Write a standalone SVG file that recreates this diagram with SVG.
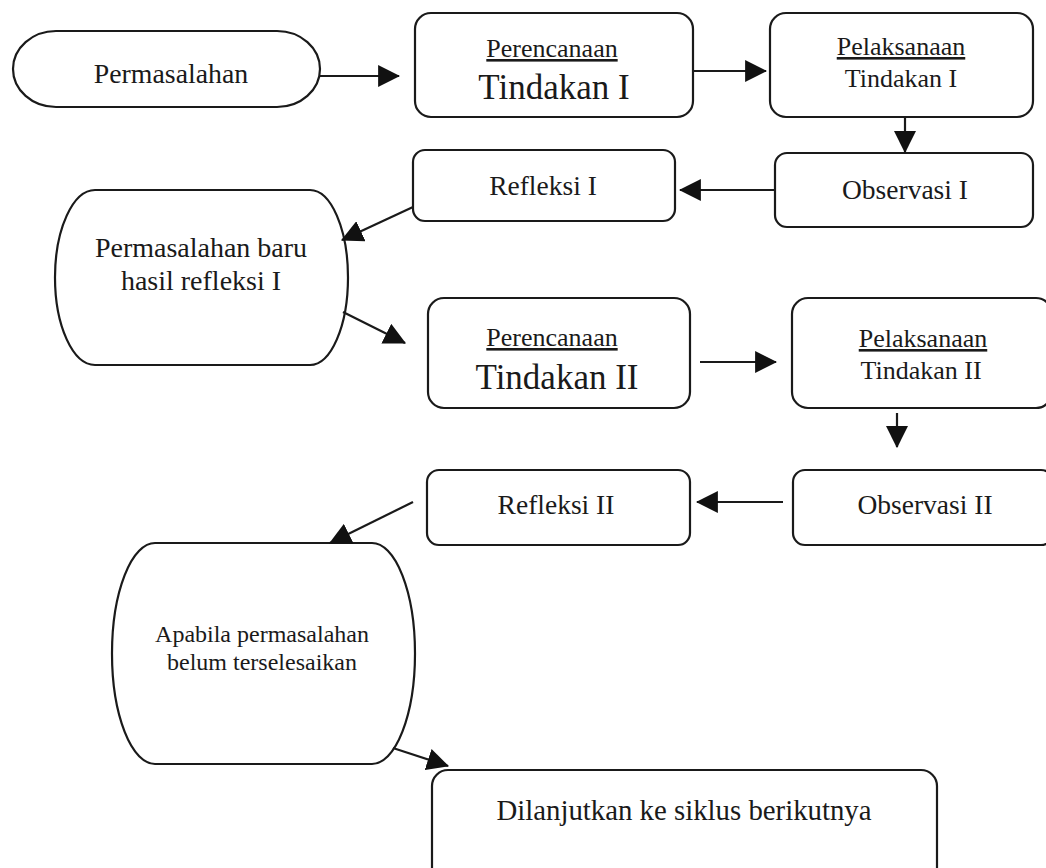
<svg xmlns="http://www.w3.org/2000/svg" width="1046" height="868" viewBox="0 0 1046 868">
<defs>
<style>
.n{fill:#fff;stroke:#1a1a1a;stroke-width:2.2}
.t{font-family:"Liberation Serif","Times New Roman",serif;fill:#1a1a1a;text-anchor:middle}
.c line{stroke:#1a1a1a;stroke-width:2.2;marker-end:url(#ah)}
</style>
<marker id="ah" markerUnits="userSpaceOnUse" markerWidth="22" markerHeight="22" viewBox="0 0 20 20" refX="19" refY="10" orient="auto">
<path d="M0,0 L20,10 L0,20 Z" fill="#111"/>
</marker>
</defs>
<rect width="1046" height="868" fill="#fff"/>
<g id="n1"><path class="n" d="M56,31 H277 A43,38 0 0 1 277,107 H56 A43,38 0 0 1 56,31 Z"/><text class="t" x="171" y="83" font-size="27.8">Permasalahan</text></g>
<g id="n2"><rect class="n" x="415" y="13" width="278" height="104" rx="16"/><text class="t" x="552" y="57" font-size="26" text-decoration="underline">Perencanaan</text><text class="t" x="554" y="99" font-size="35">Tindakan I</text></g>
<g id="n3"><rect class="n" x="770" y="13" width="263" height="104" rx="16"/><text class="t" x="901" y="55" font-size="26" text-decoration="underline">Pelaksanaan</text><text class="t" x="901" y="87" font-size="26">Tindakan I</text></g>
<g id="n4"><rect class="n" x="775" y="153" width="258" height="74" rx="12"/><text class="t" x="905" y="199" font-size="27.5">Observasi I</text></g>
<g id="n5"><rect class="n" x="413" y="150" width="262" height="71" rx="12"/><text class="t" x="543" y="195" font-size="27.5">Refleksi I</text></g>
<g id="n6"><path class="n" d="M95,190 H310 A38,87.5 0 0 1 310,365 H95 A40,87.5 0 0 1 95,190 Z"/><text class="t" x="201" y="257" font-size="28">Permasalahan baru</text><text class="t" x="201" y="290" font-size="28">hasil refleksi I</text></g>
<g id="n7"><rect class="n" x="428" y="298" width="262" height="110" rx="16"/><text class="t" x="552" y="346" font-size="26" text-decoration="underline">Perencanaan</text><text class="t" x="557" y="389" font-size="35">Tindakan II</text></g>
<g id="n8"><rect class="n" x="792" y="298" width="260" height="110" rx="16"/><text class="t" x="923" y="347" font-size="26" text-decoration="underline">Pelaksanaan</text><text class="t" x="921" y="379" font-size="26">Tindakan II</text></g>
<g id="n9"><rect class="n" x="793" y="470" width="260" height="75" rx="12"/><text class="t" x="925" y="514" font-size="27.5">Observasi II</text></g>
<g id="n10"><rect class="n" x="427" y="470" width="263" height="75" rx="12"/><text class="t" x="556" y="514" font-size="27.5">Refleksi II</text></g>
<g id="n11"><path class="n" d="M155,543 H372 A43,110.5 0 0 1 372,764 H155 A43,110.5 0 0 1 155,543 Z"/><text class="t" x="262" y="642" font-size="24">Apabila permasalahan</text><text class="t" x="262" y="670" font-size="24">belum terselesaikan</text></g>
<g id="n12"><rect class="n" x="432" y="770" width="505" height="120" rx="16"/><text class="t" x="684" y="820" font-size="28.8">Dilanjutkan ke siklus berikutnya</text></g>
<g class="c" id="connectors">
<line x1="320" y1="76" x2="399" y2="76"/>
<line x1="693" y1="71" x2="766" y2="71"/>
<line x1="905" y1="117" x2="905" y2="152"/>
<line x1="775" y1="190" x2="680" y2="190"/>
<line x1="413" y1="207" x2="342" y2="240"/>
<line x1="343" y1="312" x2="405" y2="343"/>
<line x1="700" y1="362" x2="776" y2="362"/>
<line x1="897" y1="413" x2="897" y2="447"/>
<line x1="783" y1="502" x2="697" y2="502"/>
<line x1="413" y1="502" x2="330" y2="543"/>
<line x1="393" y1="748" x2="448" y2="766"/>
</g>
</svg>
